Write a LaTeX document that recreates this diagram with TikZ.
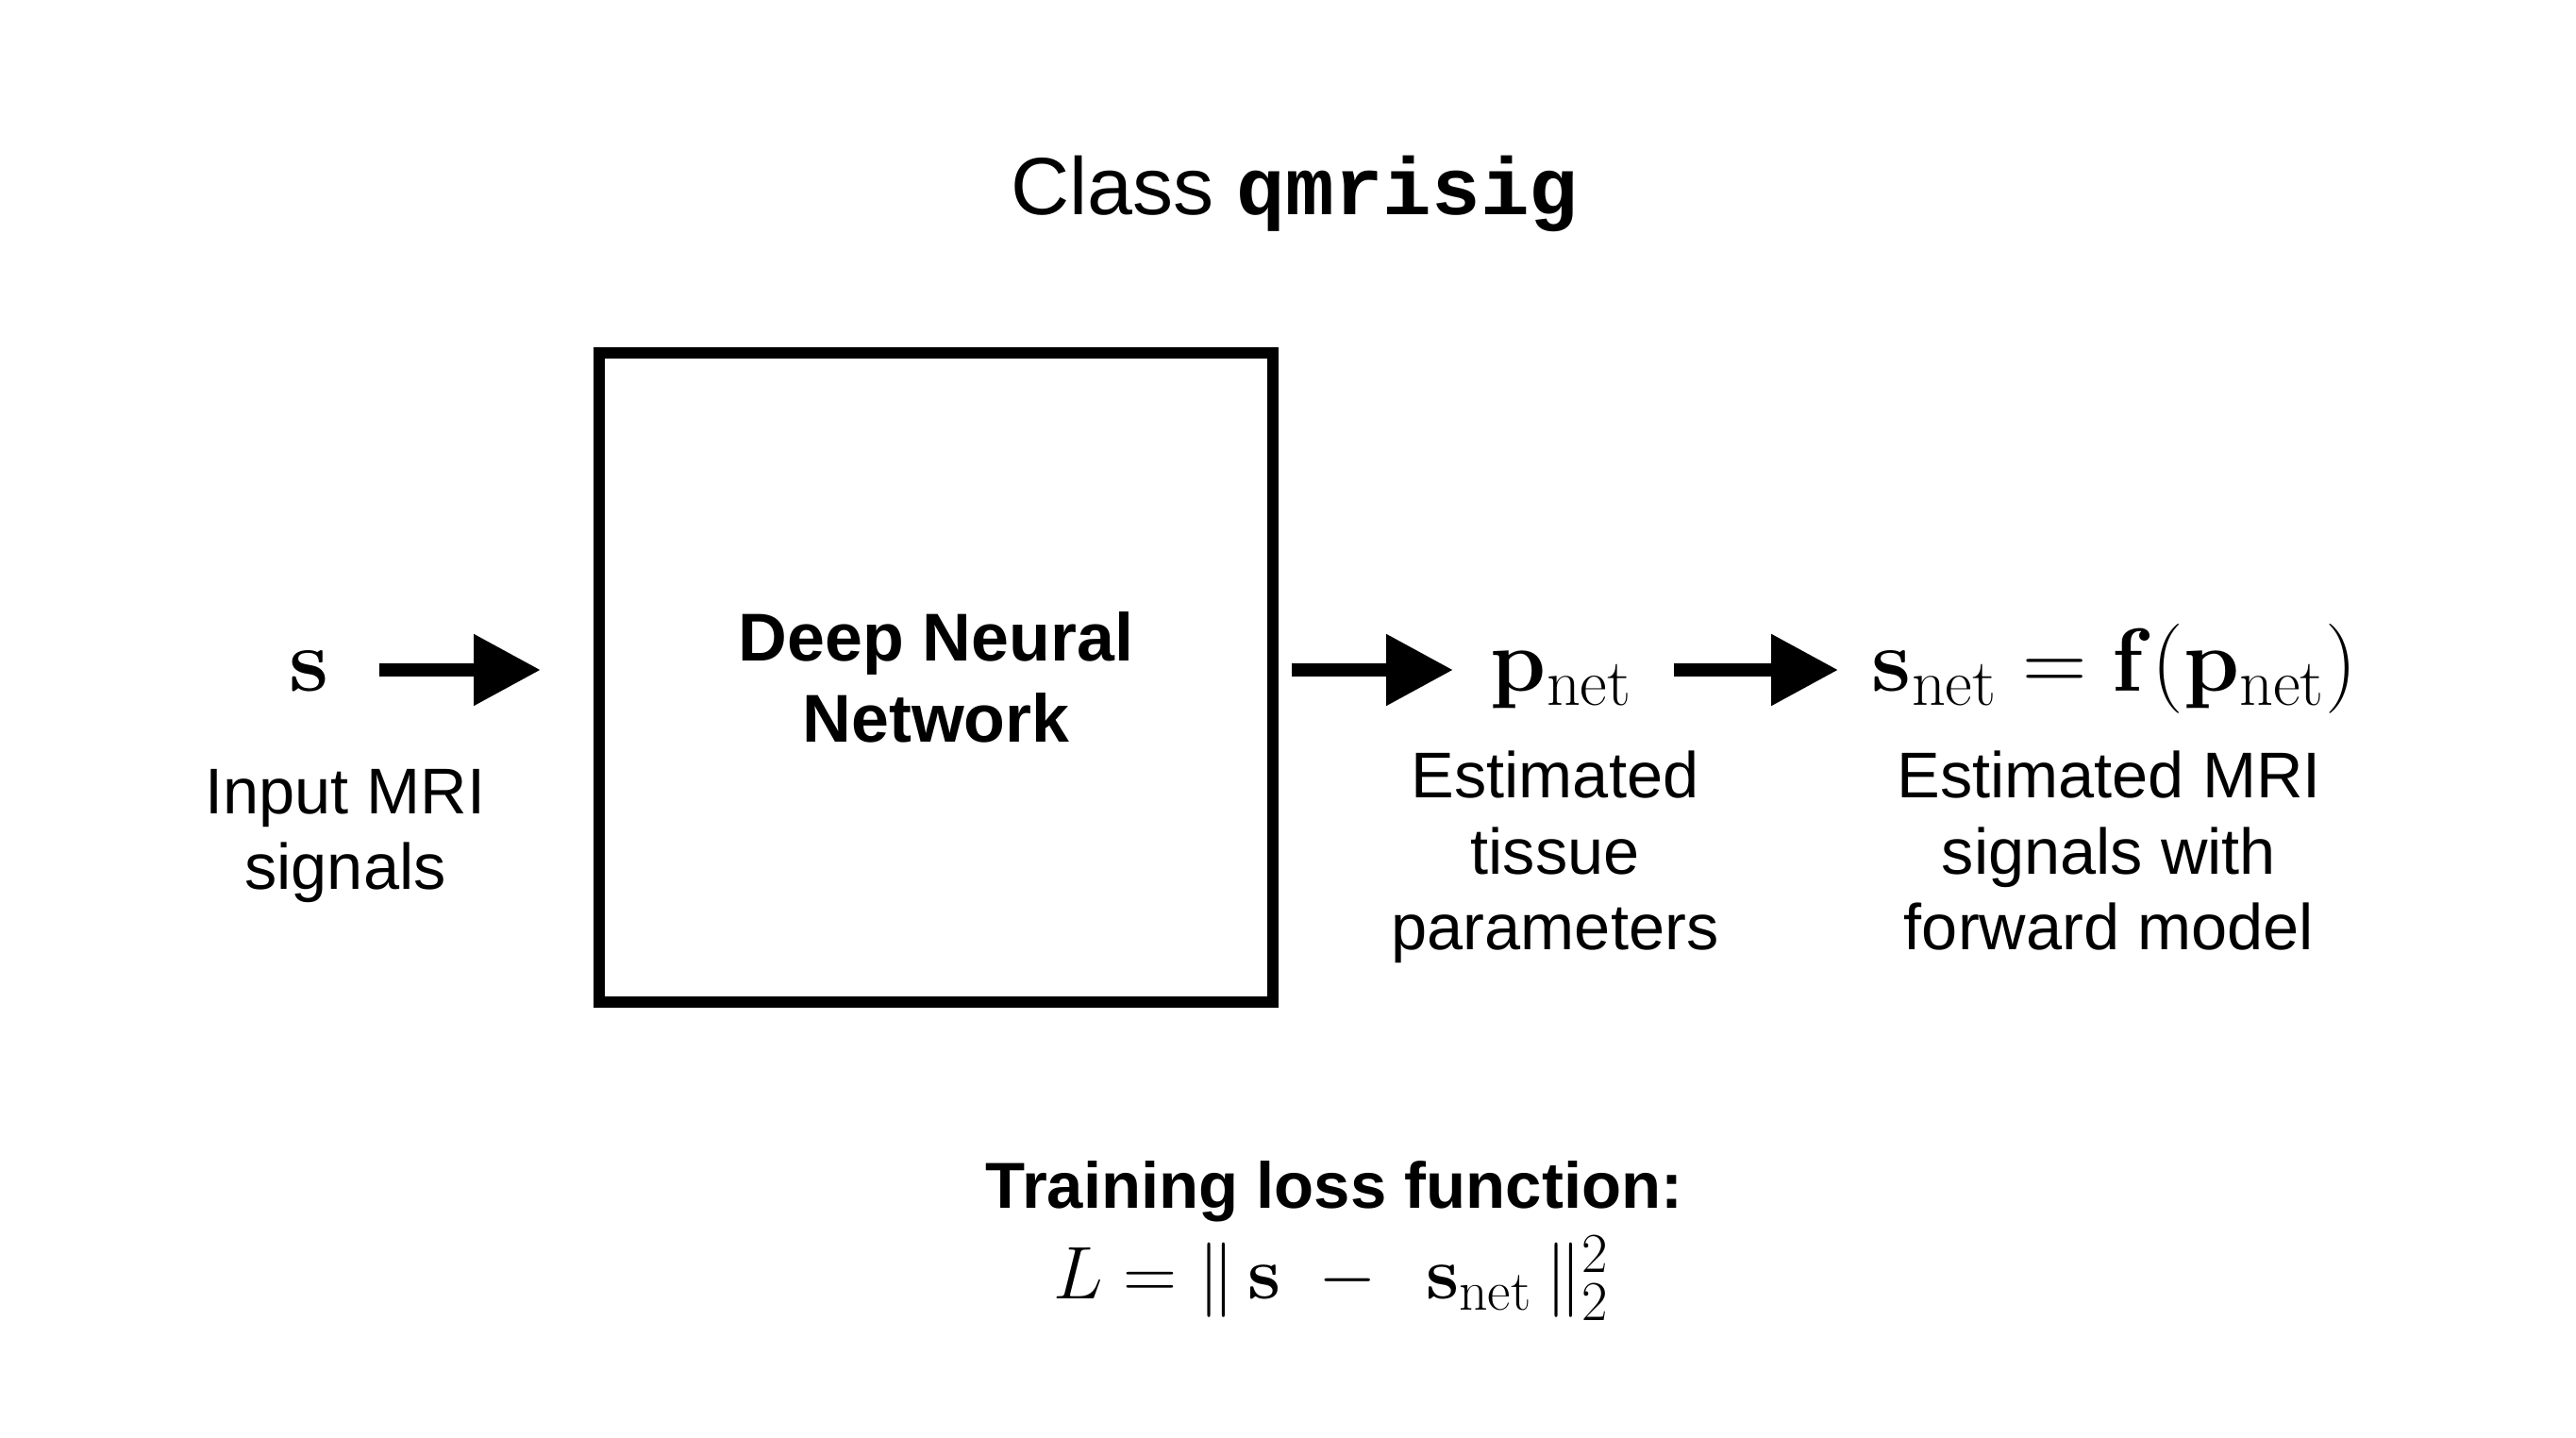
\RequirePackage{fix-cm}
\documentclass[tikz,border=0pt]{standalone}
\usepackage{amsmath, amssymb}
\usepackage[no-math]{fontspec}
\setmainfont{Liberation Sans}
\newfontfamily\codefont{Liberation Mono}
\DeclareMathSizes{27}{27}{20}{15}
\DeclareMathSizes{22.5}{22.5}{17}{12.5}
\usepackage{tikz}
\usetikzlibrary{arrows.meta}
\tikzstyle{process} = [rectangle, minimum width=7.14cm, minimum height=6.88cm, text centered, align=center, draw=black, line width=3.4pt, font=\fontsize{20.4}{24.4}\selectfont\bfseries]
\tikzstyle{desc} = [anchor=base, align=center, font=\fontsize{19.5}{23}\selectfont]
\tikzstyle{vec} = [anchor=base, inner sep=0pt, font=\fontsize{27}{30}\selectfont]
\tikzstyle{arrow} = [line width=4.2pt, -{Triangle[length=7.1mm, width=7.2mm]}]

\begin{document}
\begin{tikzpicture}[node distance=2cm]
\useasboundingbox (0,0) rectangle (27.3,15.24);
\node (title) [anchor=base, font=\fontsize{24.5}{28}\selectfont] at (13.72,12.96) {Class {\codefont\bfseries qmrisig}};
\node (DNN) [process] at (9.92,8.06) {Deep Neural\\Network};
\node (sig) [vec] at (3.28,7.91) {$\mathbf{s}$};
\node (par) [vec] at (16.55,7.91) {$\mathbf{p}_{\mathrm{net}}$};
\node (fwd) [vec] at (22.41,7.91) {$\mathbf{s}_{\mathrm{net}}=\mathbf{f}(\mathbf{p}_{\mathrm{net}})$};
% labels (base = last line)
\node (insig) [desc] at (3.66,5.81) {Input MRI\\signals};
\node (inpar) [desc] at (16.48,5.17) {Estimated\\tissue\\parameters};
\node (infwd) [desc] at (22.35,5.17) {Estimated MRI\\signals with\\forward model};
\coordinate (axis) at (0,8.14);
\draw [arrow, shorten <=5.25mm, shorten >=5.6mm] (sig.east |- axis) -- (DNN.west |- axis);
\draw [arrow, shorten <=1.4mm, shorten >=3.9mm] (DNN.east |- axis) -- (par.west |- axis);
\draw [arrow, shorten <=4.35mm, shorten >=3.5mm] (par.east |- axis) -- (fwd.west |- axis);
\node (loss) [anchor=base, font=\fontsize{19.6}{23.3}\selectfont\bfseries] at (14.14,2.43) {Training loss function:};
\node (L) [vec, font=\fontsize{22.5}{26}\selectfont] at (14.11,1.47) {$L = \|\, \mathbf{s} \; - \;\, \mathbf{s}_{\mathrm{net}} \,\|_2^2$};
\end{tikzpicture}
\end{document}
